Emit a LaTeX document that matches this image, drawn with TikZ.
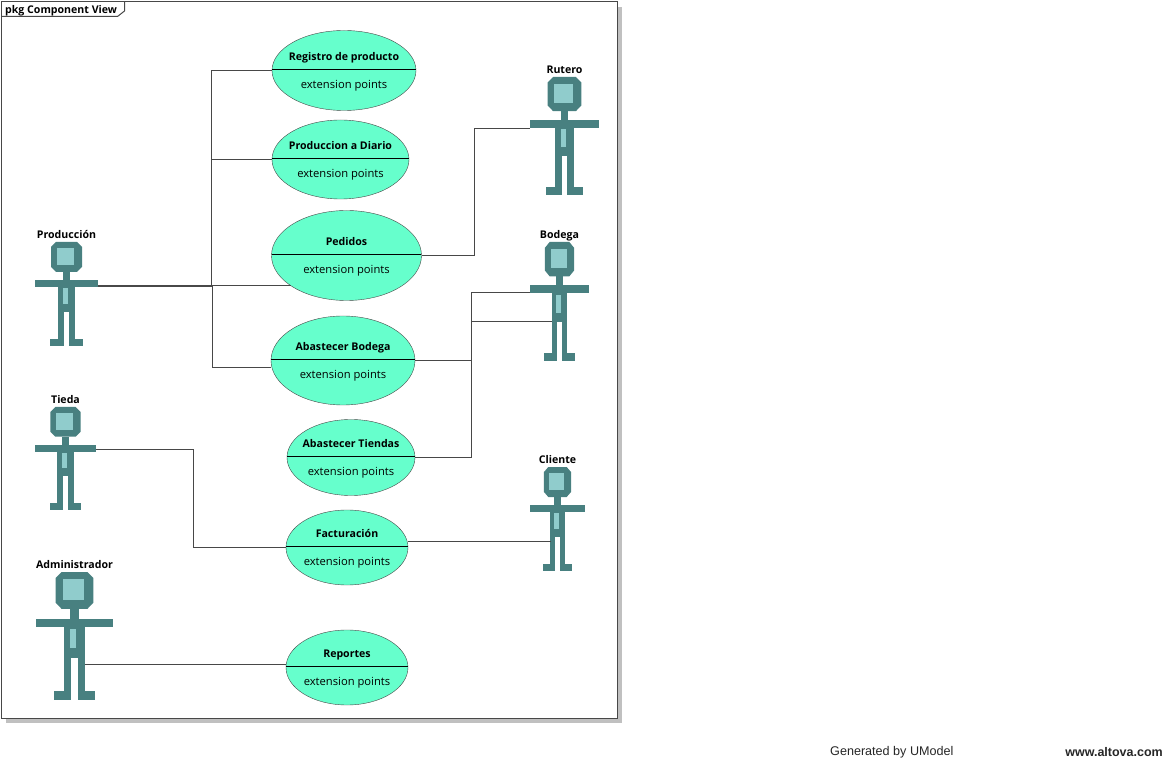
\documentclass[tikz,border=0pt]{standalone}
\usepackage{fontspec}
\setmainfont{Open Sans}
\newfontfamily\footfont{Liberation Sans}
\usepackage{tikz}
\usetikzlibrary{shapes.geometric,positioning,calc}
\definecolor{actorteal}{RGB}{72,128,128}
\definecolor{actorlight}{RGB}{144,204,204}
\definecolor{casegreen}{RGB}{102,255,204}
\definecolor{linegrey}{RGB}{72,72,72}
\definecolor{shadowgrey}{RGB}{192,192,192}

% name x y width height label
\newcommand{\actorfig}[6]{
  \node[actorbox, minimum width=#4pt, minimum height=#5pt] (#1) at ({#2+#4/2},{#3+#5/2}) {};
  \node[titletext, above=0.5pt of #1] (#1label) {#6};
  \begin{scope}[shift={(#2,#3)}, xscale=#4/63, yscale=#5/104]
    \fill[actorteal] (21,0) -- (42,0) -- (47,5) -- (47,25) -- (42,30) -- (21,30) -- (16,25) -- (16,5) -- cycle;
    \fill[actorlight] (22,6) rectangle (39,23);
    \fill[actorteal] (28,30) rectangle (35,38);
    \fill[actorteal] (0,38) rectangle (63,45);
    \fill[actorteal] (23,45) rectangle (40,70);
    \fill[actorteal] (23,70) rectangle (29,104);
    \fill[actorteal] (34,70) rectangle (40,104);
    \fill[actorteal] (15,97) rectangle (29,104);
    \fill[actorteal] (34,97) rectangle (48,104);
    \fill[actorlight] (28,46) rectangle (33,62);
  \end{scope}
}
% name centre-x centre-y width height divider-y title
\newcommand{\usecasefig}[7]{
  \node[usecase, minimum width=#4pt, minimum height=#5pt] (#1) at (#2,#3) {};
  \draw[black, line width=1pt] ({#2-sqrt(1-((#6-#3)/(#5/2))^2)*#4/2},#6) -- ({#2+sqrt(1-((#6-#3)/(#5/2))^2)*#4/2},#6);
  \node[titletext] (#1title) at (#2,#6-11.5) {#7};
  \node[exttext] (#1ext) at (#2,#6+16.5) {extension points};
}

\begin{document}
\begin{tikzpicture}[
    x=1pt, y=-1pt,
    actorbox/.style={rectangle, inner sep=0pt, outer sep=0pt},
    usecase/.style={ellipse, draw=linegrey, fill=casegreen, inner sep=0pt, outer sep=0pt},
    titletext/.style={font=\bfseries\fontsize{10.6}{12}\selectfont, inner sep=0pt, text height=8pt, text depth=2.5pt},
    exttext/.style={font=\fontsize{11.2}{12}\selectfont, inner sep=0pt, text height=8pt, text depth=2.5pt},
    conn/.style={draw=linegrey, line width=1pt},
]
\useasboundingbox (0,0) rectangle (1171,759);
\fill[shadowgrey] (6,7) rectangle (622,723);
\node[rectangle, draw=linegrey, fill=white, line width=1pt, minimum width=616pt, minimum height=717pt, inner sep=0pt, outer sep=0pt] (frame) at (309.5,360) {};
\node[titletext, anchor=west] (framelabel) at (5,10.5) {pkg Component View};
\coordinate (tabcorner) at (124.5,1.5);
\draw[conn] (1.5,16.5) -- (117.5,16.5) -- (124.5,11) -- (tabcorner);

\usecasefig{registro}{344}{70.5}{144}{80}{69.5}{Registro de producto}
\usecasefig{diario}{340.5}{159.5}{137}{79}{158.5}{Produccion a Diario}
\usecasefig{pedidos}{346.5}{255.5}{150}{90}{254.5}{Pedidos}
\usecasefig{bodegacase}{343}{360.5}{144}{89}{359.5}{Abastecer Bodega}
\usecasefig{tiendas}{351}{457.5}{128}{76}{456.5}{Abastecer Tiendas}
\usecasefig{facturacion}{347}{547.5}{122}{75}{546.5}{Facturación}
\usecasefig{reportes}{347}{667.5}{122}{75}{666.5}{Reportes}

\actorfig{produccion}{35}{242}{63}{104}{Producción}
\actorfig{rutero}{530}{77}{69}{118}{Rutero}
\actorfig{bodega}{530}{242}{59}{119}{Bodega}
\actorfig{tieda}{35}{407}{61}{103}{Tieda}
\actorfig{cliente}{530}{467}{55}{104}{Cliente}
\actorfig{administrador}{36}{572}{77}{128}{Administrador}

\coordinate (busup) at (211.5,285.5);
\coordinate (busdown) at (212.5,286.5);
\coordinate (pedidosleft) at (290.6,285.5);
\coordinate (rutbend) at (474.5,128.5);
\coordinate (bodegaupper) at (471.5,292.5);
\coordinate (bodegalower) at (471.5,321.5);
\coordinate (tiedabend) at (193.5,449.5);
\coordinate (abastecerleft) at (271.3,367.5);
\draw[conn] (registro.west) -| (busup);
\draw[conn] (diario.west) -- (busup |- diario.west);
\draw[conn] ([yshift=8.5pt]produccion.east) -- (pedidosleft);
\draw[conn] ([yshift=7.5pt]produccion.east) -- (busdown) |- (abastecerleft);
\draw[conn] (pedidos.east) -| (rutbend) -- ([yshift=7.5pt]rutero.west);
\draw[conn] ([yshift=9pt]bodega.west) -- (bodegaupper) |- (bodegacase.east);
\draw[conn] ([xshift=21.5pt,yshift=-20pt]bodega.west) -- (bodegalower) |- (tiendas.east);
\draw[conn] ([yshift=9pt]tieda.east) -- (tiedabend) |- (facturacion.west);
\draw[conn] (facturacion.east |- 0,541.5) -- ([xshift=20.5pt,yshift=-22.5pt]cliente.west);
\draw[conn] ([xshift=-28pt,yshift=-28.5pt]administrador.east) -- (reportes.west |- 0,664.5);

\node[anchor=west, inner sep=0pt, font=\footfont\fontsize{12.6}{14}\selectfont, text=black!85] (generated) at (830,752.5) {Generated by UModel};
\node[anchor=east, inner sep=0pt, font=\footfont\bfseries\fontsize{12.5}{14}\selectfont, text=black!85] (altova) at (1163,752.5) {www.altova.com};
\end{tikzpicture}
\end{document}
